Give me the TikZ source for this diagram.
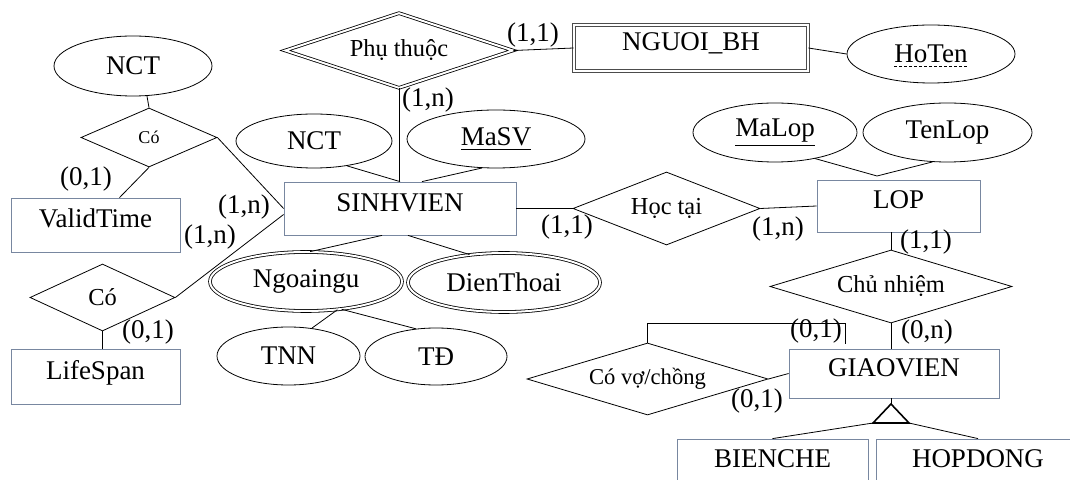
\documentclass[tikz,border=0pt]{standalone}
\usepackage{fontspec}
\setmainfont{Liberation Serif}
\usetikzlibrary{shapes.geometric}
\definecolor{boxline}{RGB}{120,135,160}
\begin{document}
\begin{tikzpicture}[x=0.5pt,y=-0.5pt]
\tikzstyle{every node}=[font=\fontsize{13.5}{16}\selectfont]
\tikzstyle{entity}=[draw=boxline, rectangle, inner sep=0pt, text height=9.5pt, text depth=6.5pt]
\tikzstyle{attr}=[draw, ellipse, inner sep=0pt]
\tikzstyle{rel}=[draw, diamond, inner sep=0pt, font=\fontsize{12.2}{14}\selectfont]
\tikzstyle{card}=[inner sep=0pt]
\tikzstyle{dbl}=[double, double distance=1pt]

% fix the size of the page
\useasboundingbox (0,0) rectangle (1070,480);

% entities
\node[entity, minimum width=116pt, minimum height=26.5pt] (sv) at (400,208.5) {SINHVIEN};
\node[entity, minimum width=84.5pt, minimum height=27pt] (vt) at (95.5,225) {ValidTime};
\node[entity, minimum width=84.5pt, minimum height=27.5pt] (ls) at (95.5,376.5) {LifeSpan};
\node[entity, minimum width=81.5pt, minimum height=26pt] (lop) at (898.5,206) {LOP};
\node[entity, minimum width=105pt, minimum height=24.5pt] (gv) at (894,373.5) {GIAOVIEN};
\node[entity, minimum width=95.5pt, minimum height=25pt] (bc) at (772.5,464) {BIENCHE};
\node[entity, minimum width=102pt, minimum height=25pt] (hd) at (978,464) {HOPDONG};
\node[entity, draw=black!70, dbl, minimum width=117pt, minimum height=23pt] (ngbh) at (691,48) {NGUOI\_BH};

% attributes
\node[attr, minimum width=79pt, minimum height=30pt] (nct1) at (133,66) {NCT};
\node[attr, minimum width=78pt, minimum height=27pt] (nct2) at (314,141) {NCT};
\node[attr, minimum width=89pt, minimum height=29pt] (masv) at (496,139) {\underline{MaSV}};
\node[attr, minimum width=84pt, minimum height=29pt] (hoten) at (931,54) {};
\node[inner sep=0pt] (hotentxt) at (hoten.center) {HoTen};
\draw[dash pattern=on 1.5pt off 1pt] ([yshift=-2pt]hotentxt.base west) -- ([yshift=-2pt]hotentxt.base east);
\node[attr, minimum width=82pt, minimum height=29.5pt] (malop) at (775,132.5) {\underline{MaLop}};
\node[attr, minimum width=84.5pt, minimum height=29.5pt] (tenlop) at (947.5,132.5) {TenLop};
\node[attr, dbl, minimum width=96pt, minimum height=29.5pt] (nn) at (306,281.5) {Ngoaingu};
\node[attr, dbl, minimum width=96pt, minimum height=29.5pt] (dt) at (504,282.5) {DienThoai};
\node[attr, minimum width=71.5pt, minimum height=29pt] (tnn) at (288.5,356) {TNN};
\node[attr, minimum width=71pt, minimum height=28.5pt] (td) at (436,356.5) {TĐ};

% relationships
\node[rel, dbl, aspect=3.04, minimum width=114pt, minimum height=37.5pt] (phu) at (399,50.5) {Phụ thuộc};
\node[rel, aspect=2.3, minimum width=68pt, minimum height=29.5pt, font=\fontsize{9}{11}\selectfont] (co1) at (149,137.5) {Có};
\node[rel, aspect=2.16, minimum width=72.5pt, minimum height=33.5pt] (co2) at (102.5,297.5) {Có};
\node[rel, aspect=2.56, minimum width=93.5pt, minimum height=36.5pt] (hoc) at (666.5,208.5) {Học tại};
\node[rel, aspect=3.3, minimum width=121pt, minimum height=36.5pt] (chu) at (891,286.5) {Chủ nhiệm};
\node[rel, aspect=3.35, minimum width=120.5pt, minimum height=36pt, font=\fontsize{11.3}{13}\selectfont] (vc) at (647.5,379) {Có vợ/chồng};

% cardinalities
\node[card] (c1) at (86,179) {(0,1)};
\node[card] (c2) at (244,207) {(1,n)};
\node[card] (c3) at (210,237) {(1,n)};
\node[card] (c4) at (148,332) {(0,1)};
\node[card] (c5) at (428,100) {(1,n)};
\node[card] (c6) at (533,35) {(1,1)};
\node[card] (c7) at (567,227) {(1,1)};
\node[card] (c8) at (778,229) {(1,n)};
\node[card] (c9) at (926,242) {(1,1)};
\node[card] (c10) at (927,332) {(0,n)};
\node[card] (c11) at (816,331) {(0,1)};
\node[card] (c12) at (757,401) {(0,1)};

% helper points
\coordinate (lopjoin) at (877,176);
\coordinate (vcend) at (845,344);
\coordinate (isatop) at (891,404);
\coordinate (isal) at (873,423);
\coordinate (isar) at (909,423);

% links
\draw (nct1.-65) -- (co1.north);
\draw (co1.east) -- (sv.west);
\draw (co1.south) -- ([xshift=12pt]vt.north);
\draw (co2.east) -- ([yshift=-3pt]sv.west);
\draw (co2.south) -- (co2.south |- ls.north);
\draw (nct2.-37) -- (sv.north);
\draw (masv.-116) -- ([xshift=11pt]sv.north);
\draw (phu.south) -- (phu.south |- sv.north);
\draw (phu.east) -- (ngbh.west);
\draw (ngbh.east) -- (hoten.west);
\draw (sv.east) -- (hoc.west);
\draw (hoc.east) -- (lop.west);
\draw (malop.-33) -- (lopjoin) -- (tenlop.-117);
\draw (chu.north) -- (chu.north |- lop.south);
\draw (chu.south) -- (chu.south |- gv.north);
\draw ([xshift=-9pt]sv.south) -- (nn.82);
\draw ([xshift=4pt]sv.south) -- (dt.141);
\draw (nn.-42) -- (tnn.50);
\draw (nn.-38) -- (td.126);
\draw (vc.north) -- ++(0,-19) -| (vcend);
\draw (vc.east) -- (gv.west);

% specialisation
\draw (isatop |- gv.south) -- (isatop);
\draw[thick] (isatop) -- (isal) -- (isar) -- cycle;
\draw (isal) -- (bc.north);
\draw (isar) -- (hd.north);
\end{tikzpicture}
\end{document}
